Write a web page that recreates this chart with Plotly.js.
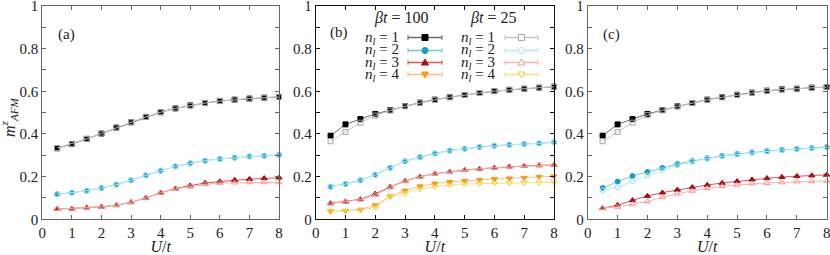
<!DOCTYPE html>
<html>
<head>
<meta charset="utf-8">
<script src="https://cdn.plot.ly/plotly-3.0.1.min.js"></script>
<style>html,body{margin:0;padding:0;background:#fff}#plot{width:830px;height:255px}</style>
</head>
<body>
<div id="plot"></div>
<script>
// ---------- data ----------
const U = [0.5, 1, 1.5, 2, 2.5, 3, 3.5, 4, 4.5, 5, 5.5, 6, 6.5, 7, 7.5, 8];

// panel (a)
const a_b100_n1 = [0.333,0.353,0.377,0.402,0.430,0.455,0.480,0.502,0.520,0.534,0.545,0.555,0.561,0.566,0.570,0.574];
const a_b25_n1  = [0.334,0.354,0.377,0.402,0.430,0.455,0.480,0.502,0.520,0.533,0.545,0.554,0.561,0.566,0.570,0.573];
const a_b100_n2 = [0.117,0.125,0.134,0.147,0.163,0.183,0.206,0.228,0.248,0.263,0.275,0.283,0.289,0.295,0.298,0.302];
const a_b25_n2  = [0.117,0.125,0.134,0.147,0.162,0.183,0.206,0.228,0.248,0.262,0.274,0.283,0.289,0.294,0.298,0.301];
const a_b100_n3 = [0.048,0.050,0.055,0.059,0.066,0.080,0.100,0.125,0.144,0.158,0.170,0.177,0.184,0.188,0.192,0.195];
const a_b25_n3  = [0.048,0.050,0.055,0.059,0.066,0.080,0.100,0.124,0.142,0.153,0.164,0.170,0.172,0.173,0.173,0.173];

// panel (b)
const b_b100_n1 = [0.392,0.445,0.470,0.494,0.512,0.531,0.547,0.561,0.573,0.583,0.592,0.601,0.607,0.612,0.617,0.621];
const b_b25_n1  = [0.366,0.409,0.453,0.486,0.510,0.530,0.546,0.560,0.572,0.583,0.592,0.601,0.607,0.612,0.617,0.621];
const b_b100_n2 = [0.153,0.166,0.183,0.209,0.242,0.272,0.292,0.309,0.322,0.331,0.339,0.345,0.350,0.353,0.356,0.361];
const b_b25_n2  = [0.152,0.165,0.182,0.208,0.241,0.271,0.292,0.308,0.321,0.331,0.338,0.345,0.349,0.353,0.356,0.360];
const b_b100_n3 = [0.075,0.083,0.094,0.119,0.152,0.180,0.200,0.214,0.223,0.231,0.237,0.242,0.247,0.250,0.253,0.255];
const b_b25_n3  = [0.074,0.082,0.092,0.114,0.149,0.178,0.199,0.213,0.222,0.230,0.237,0.242,0.246,0.250,0.253,0.255];
const b_b100_n4 = [0.038,0.040,0.046,0.066,0.108,0.135,0.155,0.168,0.175,0.181,0.185,0.189,0.192,0.195,0.200,0.202];
const b_b25_n4  = [0.036,0.038,0.043,0.056,0.105,0.122,0.142,0.153,0.161,0.165,0.167,0.169,0.170,0.171,0.172,0.173];

// panel (c)
const c_b100_n1 = [0.392,0.445,0.470,0.494,0.512,0.530,0.545,0.561,0.573,0.584,0.594,0.603,0.609,0.612,0.617,0.620];
const c_b25_n1  = [0.366,0.409,0.453,0.488,0.511,0.529,0.545,0.560,0.572,0.583,0.593,0.602,0.608,0.612,0.616,0.620];
const c_b100_n2 = [0.147,0.177,0.203,0.222,0.241,0.259,0.273,0.286,0.298,0.306,0.314,0.320,0.325,0.330,0.334,0.339];
const c_b25_n2  = [0.136,0.150,0.178,0.205,0.230,0.253,0.270,0.284,0.296,0.304,0.312,0.318,0.324,0.329,0.333,0.337];
const c_b100_n3 = [0.052,0.066,0.089,0.109,0.125,0.138,0.150,0.161,0.170,0.178,0.186,0.192,0.198,0.202,0.205,0.209];
const c_b25_n3  = [0.053,0.058,0.070,0.084,0.103,0.120,0.133,0.145,0.155,0.161,0.167,0.170,0.173,0.177,0.178,0.180];

// ticks
const xTickVals = [0,1,2,3,4,5,6,7,8];
const xTickText = ['0','1','2','3','4','5','6','7','8'];
const yTickVals = [0,0.1,0.2,0.3,0.4,0.5,0.6,0.7,0.8,0.9,1];
const yTickText = ['0','','0.2','','0.4','','0.6','','0.8','','1'];

const panelLabels = ['(a)','(b)','(c)'];
const yTitle = '<i>m</i><sup><i>z</i></sup><sub><i>AFM</i></sub>';
const xTitle = '<i>U</i>/<i>t</i>';
const legendHeaders = ['<i>βt</i> = 100', '<i>βt</i> = 25'];
const legendRows = ['<i>n</i><sub><i>l</i></sub> = 1','<i>n</i><sub><i>l</i></sub> = 2','<i>n</i><sub><i>l</i></sub> = 3','<i>n</i><sub><i>l</i></sub> = 4'];

// ---------- styles ----------
const FONT = "'Liberation Serif', 'DejaVu Serif', serif";
const TXT = '#222222';
const st = {
  b100: [
    {m:'#000000', l:'#6a6a6a', sym:'square', size:5},
    {m:'#1a9cc0', l:'#6ccbe0', sym:'circle', size:5},
    {m:'#a50f15', l:'#d85858', sym:'triangle-up', size:5.5},
    {m:'#f59a1a', l:'#f9c080', sym:'triangle-down', size:5.5}
  ],
  b25: [
    {m:'#a8a8a8', l:'#c4c4c4', sym:'square-open', size:5},
    {m:'#9fe3f0', l:'#b8ecf6', sym:'circle-open', size:5},
    {m:'#f49a92', l:'#f8b4ac', sym:'triangle-up-open', size:5.5},
    {m:'#f6cc30', l:'#fbe080', sym:'triangle-down-open', size:5.5}
  ]
};

function tr(y, s, xa, ya, name){
  return {x:U, y:y, xaxis:xa, yaxis:ya, type:'scatter', mode:'lines+markers', name:name,
    line:{color:s.l, width:1}, marker:{color:s.m, symbol:s.sym, size:s.size, line:{color:s.m, width:1}},
    showlegend:false, cliponaxis:false};
}

const traces = [
  tr(a_b100_n1, st.b100[0], 'x','y','a βt=100 nl=1'),
  tr(a_b100_n2, st.b100[1], 'x','y','a βt=100 nl=2'),
  tr(a_b100_n3, st.b100[2], 'x','y','a βt=100 nl=3'),
  tr(a_b25_n1, st.b25[0], 'x','y','a βt=25 nl=1'),
  tr(a_b25_n2, st.b25[1], 'x','y','a βt=25 nl=2'),
  tr(a_b25_n3, st.b25[2], 'x','y','a βt=25 nl=3'),

  tr(b_b100_n1, st.b100[0], 'x2','y2','b βt=100 nl=1'),
  tr(b_b100_n2, st.b100[1], 'x2','y2','b βt=100 nl=2'),
  tr(b_b100_n3, st.b100[2], 'x2','y2','b βt=100 nl=3'),
  tr(b_b100_n4, st.b100[3], 'x2','y2','b βt=100 nl=4'),
  tr(b_b25_n1, st.b25[0], 'x2','y2','b βt=25 nl=1'),
  tr(b_b25_n2, st.b25[1], 'x2','y2','b βt=25 nl=2'),
  tr(b_b25_n3, st.b25[2], 'x2','y2','b βt=25 nl=3'),
  tr(b_b25_n4, st.b25[3], 'x2','y2','b βt=25 nl=4'),

  tr(c_b100_n1, st.b100[0], 'x3','y3','c βt=100 nl=1'),
  tr(c_b100_n2, st.b100[1], 'x3','y3','c βt=100 nl=2'),
  tr(c_b100_n3, st.b100[2], 'x3','y3','c βt=100 nl=3'),
  tr(c_b25_n1, st.b25[0], 'x3','y3','c βt=25 nl=1'),
  tr(c_b25_n2, st.b25[1], 'x3','y3','c βt=25 nl=2'),
  tr(c_b25_n3, st.b25[2], 'x3','y3','c βt=25 nl=3')
];

// ---------- layout ----------
const W = 830, H = 255;
const px = v => v / W, py = v => 1 - v / H;
const yDom = [py(219.3), py(6)];
const xDoms = [[px(42.3), px(279)], [px(315.7), px(554)], [px(587.7), px(826.7)]];
const frameCols = ['#666666', '#111111', '#666666'];

function xax(i){
  return {domain:xDoms[i], range:[0,8], tickmode:'array', tickvals:xTickVals, ticktext:xTickText,
    ticks:'inside', ticklen:4, tickcolor:frameCols[i], showline:true, linecolor:frameCols[i], linewidth:1,
    mirror:'ticks', showgrid:false, zeroline:false, anchor:['y','y2','y3'][i], ticklabeloverflow:'allow',
    tickfont:{family:FONT, size:15, color:TXT},
    title:{text:xTitle, font:{family:FONT, size:16, color:TXT}, standoff:6}};
}
function yax(i){
  return {domain:yDom, range:[0,1], tickmode:'array', tickvals:yTickVals, ticktext:yTickText,
    ticks:'inside', ticklen:4, tickcolor:frameCols[i], showline:true, linecolor:frameCols[i], linewidth:1,
    mirror:'ticks', showgrid:false, zeroline:false, anchor:['x','x2','x3'][i], ticklabeloverflow:'allow',
    tickfont:{family:FONT, size:15, color:TXT}};
}

const annotations = [];
const shapes = [];
// y-axis title for panel (a)
annotations.push({xref:'paper', yref:'paper', x:px(9), y:py(117), text:yTitle, textangle:-90, showarrow:false,
  xanchor:'center', yanchor:'middle', font:{family:FONT, size:16, color:TXT}});

const labelPos = [[66.5,35],[338.5,33],[611.5,35]];
panelLabels.forEach((t,i)=>annotations.push({xref:'paper', yref:'paper', x:px(labelPos[i][0]), y:py(labelPos[i][1]),
  text:t, showarrow:false, xanchor:'center', yanchor:'middle', font:{family:FONT, size:15, color:TXT}}));

// legend (drawn inside panel b)
const hdrX = [401, 492.5];
legendHeaders.forEach((t,i)=>annotations.push({xref:'paper', yref:'paper', x:px(hdrX[i]), y:py(18),
  text:t, showarrow:false, xanchor:'center', yanchor:'middle', font:{family:FONT, size:16, color:TXT}}));
const rowY = [37.5, 50.5, 62.5, 74.5];
const txtR = [401, 497];
const sampX = [[408,442],[505,538]];
const groups = [st.b100, st.b25];
for (let c=0;c<2;c++){
  for (let r=0;r<4;r++){
    const y = rowY[r];
    annotations.push({xref:'paper', yref:'paper', x:px(txtR[c]), y:py(y), text:legendRows[r], showarrow:false,
      xanchor:'right', yanchor:'middle', font:{family:FONT, size:15, color:TXT}});
    const s = groups[c][r];
    const [x0,x1] = sampX[c];
    const lc = s.l;
    shapes.push({type:'line', xref:'paper', yref:'paper', x0:px(x0), x1:px(x1), y0:py(y), y1:py(y), line:{color:lc, width:1.5}});
    shapes.push({type:'line', xref:'paper', yref:'paper', x0:px(x0), x1:px(x0), y0:py(y-2.5), y1:py(y+2.5), line:{color:lc, width:1}});
    shapes.push({type:'line', xref:'paper', yref:'paper', x0:px(x1), x1:px(x1), y0:py(y-2.5), y1:py(y+2.5), line:{color:lc, width:1}});
    const cx = (x0+x1)/2;
    const open = c===1;
    const fill = open ? '#ffffff' : s.m;
    if (r===0){
      shapes.push({type:'rect', xref:'paper', yref:'paper', x0:px(cx-3), x1:px(cx+3), y0:py(y+3), y1:py(y-3), fillcolor:fill, line:{color:s.m, width:1}});
    } else if (r===1){
      shapes.push({type:'circle', xref:'paper', yref:'paper', x0:px(cx-3), x1:px(cx+3), y0:py(y+3), y1:py(y-3), fillcolor:fill, line:{color:s.m, width:1}});
    } else if (r===2){
      const p = `M ${px(cx-3.5)} ${py(y+2.5)} L ${px(cx+3.5)} ${py(y+2.5)} L ${px(cx)} ${py(y-3.5)} Z`;
      shapes.push({type:'path', xref:'paper', yref:'paper', path:p, fillcolor:fill, line:{color:s.m, width:1}});
    } else {
      const p = `M ${px(cx-3.5)} ${py(y-2.5)} L ${px(cx+3.5)} ${py(y-2.5)} L ${px(cx)} ${py(y+3.5)} Z`;
      shapes.push({type:'path', xref:'paper', yref:'paper', path:p, fillcolor:fill, line:{color:s.m, width:1}});
    }
  }
}

const layout = {
  width:W, height:H, margin:{l:0,r:0,t:0,b:0}, paper_bgcolor:'#ffffff', plot_bgcolor:'#ffffff',
  showlegend:false, font:{family:FONT, size:16, color:TXT},
  xaxis:xax(0), xaxis2:xax(1), xaxis3:xax(2),
  yaxis:yax(0), yaxis2:yax(1), yaxis3:yax(2),
  annotations:annotations, shapes:shapes
};

Plotly.newPlot('plot', traces, layout, {displayModeBar:false, staticPlot:true});
</script>
</body>
</html>
